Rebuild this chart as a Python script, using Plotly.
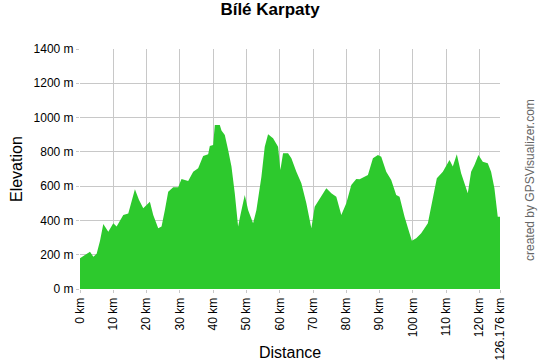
import plotly.graph_objects as go

distance_km = [0, 1.5, 3.0, 4.0, 5.0, 6.0, 7.0, 8.5, 10.0, 11.0, 13.0, 14.5, 15.6, 16.5, 17.7,
               19.0, 21.0, 22.0, 23.5, 24.5, 25.5, 26.5, 28.0, 29.5, 30.5, 32.5, 34.0, 35.5,
               37.0, 38.5, 39.0, 40.0, 40.5, 42.0, 42.5, 43.5, 44.5, 45.5, 46.5, 47.5, 48.2,
               49.5, 50.5, 52.0, 53.0, 54.5, 55.5, 56.5, 58.0, 59.5, 60.2, 61.0, 62.5, 63.5,
               65.0, 66.5, 68.0, 69.5, 70.5, 72.0, 74.0, 75.5, 77.0, 78.5, 80.0, 81.5, 83.0,
               84.0, 86.5, 88.0, 89.5, 90.5, 92.0, 93.5, 95.0, 96.0, 97.5, 99.0, 99.7, 101.0,
               102.5, 104.5, 106.0, 107.2, 109.0, 111.0, 112.0, 113.2, 114.5, 116.0, 116.5,
               117.5, 118.5, 119.7, 121.0, 122.5, 123.5, 124.5, 125.5, 126.176]
elevation_m = [179, 200, 218, 188, 205, 280, 379, 334, 383, 364, 432, 441, 520, 582, 520,
               471, 509, 432, 354, 364, 461, 568, 593, 593, 642, 630, 684, 704,
               776, 786, 834, 840, 957, 957, 924, 898, 811, 714, 558, 364, 432,
               548, 461, 383, 461, 655, 830, 902, 879, 830, 694, 792, 792, 762,
               684, 617, 500, 354, 480, 529, 588, 558, 538, 432, 500, 607, 642,
               640, 665, 762, 782, 772, 684, 636, 548, 538, 422, 325, 282, 296,
               325, 383, 519, 646, 684, 753, 714, 786, 675, 588, 558,
               684, 723, 782, 743, 733, 684, 588, 422, 422]

x_tick_vals = [0, 10, 20, 30, 40, 50, 60, 70, 80, 90, 100, 110, 120, 126.176]
x_tick_text = ["0 km", "10 km", "20 km", "30 km", "40 km", "50 km", "60 km", "70 km",
               "80 km", "90 km", "100 km", "110 km", "120 km", "126.176 km"]
y_tick_vals = [0, 200, 400, 600, 800, 1000, 1200, 1400]
y_tick_text = ["0 m", "200 m", "400 m", "600 m", "800 m", "1000 m", "1200 m", "1400 m"]

FONT = "Liberation Sans, Arial, sans-serif"
GRID = "#c8c8c8"

fig = go.Figure()
fig.add_trace(go.Scatter(
    x=distance_km, y=elevation_m, mode="lines", fill="tozeroy",
    line=dict(width=0, color="#2dc92d"), fillcolor="#2dc92d",
    hoverinfo="x+y", showlegend=False))

fig.update_layout(
    width=540, height=360,
    margin=dict(l=80, r=40, t=49, b=71, autoexpand=False),
    paper_bgcolor="white", plot_bgcolor="white",
    font=dict(family=FONT, size=12, color="#000"),
    title=dict(text="<b>Bílé Karpaty</b>", x=0.5, xref="container", xanchor="center",
               y=1, yref="container", yanchor="top", pad=dict(t=3),
               font=dict(family=FONT, size=17, color="#000")),
    xaxis=dict(range=[0, 126.176], tickmode="array", tickvals=x_tick_vals,
               ticktext=x_tick_text, tickangle=-90, showgrid=True, gridcolor=GRID,
               gridwidth=1, zeroline=False, showline=False, ticks="outside",
               ticklen=3, tickcolor=GRID, tickfont=dict(size=12), automargin=False),
    yaxis=dict(range=[0, 1400], tickmode="array", tickvals=y_tick_vals,
               ticktext=y_tick_text, showgrid=True, gridcolor=GRID, gridwidth=1,
               zeroline=False, showline=False, ticks="outside", ticklen=3,
               tickcolor=GRID, tickfont=dict(size=12), automargin=False),
)

fig.add_annotation(text="Distance", xref="paper", yref="paper", x=0.5, y=0,
                   yshift=-63, showarrow=False, font=dict(family=FONT, size=16),
                   xanchor="center", yanchor="middle")
fig.add_annotation(text="Elevation", xref="paper", yref="paper", x=0, xshift=-64,
                   y=0.5, textangle=-90, showarrow=False, font=dict(family=FONT, size=16),
                   xanchor="center", yanchor="middle")
fig.add_annotation(text="created by GPSVisualizer.com", xref="paper", yref="paper",
                   x=1.0, xshift=30, y=0.454, textangle=-90, showarrow=False,
                   font=dict(family=FONT, size=12, color="#666"),
                   xanchor="center", yanchor="middle")

fig.write_html("out.html", config={"displayModeBar": False},
               post_script="document.body.style.margin='0';document.body.style.overflow='hidden';")
